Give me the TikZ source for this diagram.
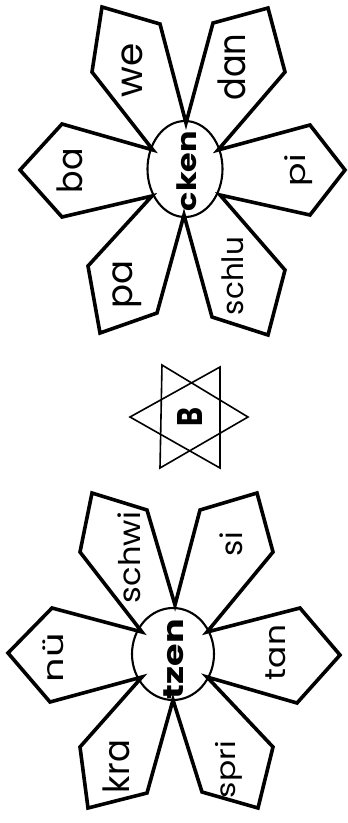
\documentclass[tikz,border=0pt]{standalone}
\usepackage{fontspec}
\setmainfont{Poppins}
\usepackage{graphicx}
\tikzset{
  petal/.style={line width=3.6pt, line join=miter, miter limit=10},
  core/.style={line width=2.1pt},
  starline/.style={line width=1.6pt, line join=miter},
  word/.style={rotate=90, inner sep=0pt, text=black}
}
% #1 = length along the reading direction, #2 = total height
\newcommand{\fitword}[3]{\resizebox*{#1pt}{#2pt}{#3}}
\begin{document}
\begin{tikzpicture}[x=1pt,y=-1pt]
\fill[white] (0,0) rectangle (348,823);
\useasboundingbox (0,0) rectangle (348,823);
% ---------- top flower ----------
\draw[petal] (186,123)
  -- (213,23) -- (268,8) -- (285,72)
  -- (218,150)
  -- (310,125) -- (345,170) -- (310,215)
  -- (220,195)
  -- (285,270) -- (268,335) -- (212,317)
  -- (184,215)
  -- (157,313) -- (100,333) -- (88,266)
  -- (152,196)
  -- (62,217) -- (20,170) -- (62,124)
  -- (153,150)
  -- (92,72) -- (102,7) -- (160,24)
  -- cycle;
\draw[core] (185,169) ellipse [x radius=37.5pt, y radius=48pt];
\node[word] (we) at (132,70) {\fitword{54}{21}{we}};
\node[word] (dan) at (231.5,67) {\fitword{67}{28}{dan}};
\node[word] (ba) at (69.5,170.5) {\fitword{45}{26}{ba}};
\node[word] (pi) at (298.5,170) {\fitword{32}{28}{pi}};
\node[word] (cken) at (186.5,171) {\fitword{80}{20}{\bfseries cken}};
\node[word] (pa) at (127.5,284) {\fitword{48}{29}{pa}};
\node[word] (schlu) at (233,276) {\fitword{78}{22}{schlu}};
% ---------- star ----------
\draw[starline] (162,365) -- (248,417) -- (160,468) -- cycle;
\draw[starline] (220,367) -- (130,417) -- (220,468) -- cycle;
\node[word] (B) at (190,417) {\fitword{19}{25}{\bfseries B}};
% ---------- bottom flower ----------
\draw[petal] (175,605)
  -- (200,510) -- (257,493) -- (273,552)
  -- (207,632)
  -- (300,608) -- (340,655) -- (297,703)
  -- (207,677)
  -- (273,747) -- (258,808) -- (202,792)
  -- (173,700)
  -- (147,793) -- (88,808) -- (80,747)
  -- (142,677)
  -- (50,702) -- (8,653) -- (52,608)
  -- (142,632)
  -- (80,552) -- (92,493) -- (147,510)
  -- cycle;
\draw[core] (173,654) ellipse [x radius=41pt, y radius=46pt];
\node[word] (schwi) at (129,557.5) {\fitword{91}{23}{schwi}};
\node[word] (si) at (231,544) {\fitword{24}{23}{si}};
\node[word] (nu) at (53,657.5) {\fitword{49}{21}{nü}};
\node[word] (tzen) at (173.5,659) {\fitword{80}{20}{\bfseries tzen}};
\node[word] (tan) at (276,652.5) {\fitword{55}{20}{tan}};
\node[word] (kra) at (116.5,766.5) {\fitword{53}{27}{kra}};
\node[word] (spri) at (228.5,769.5) {\fitword{57}{27}{spri}};
\end{tikzpicture}
\end{document}
